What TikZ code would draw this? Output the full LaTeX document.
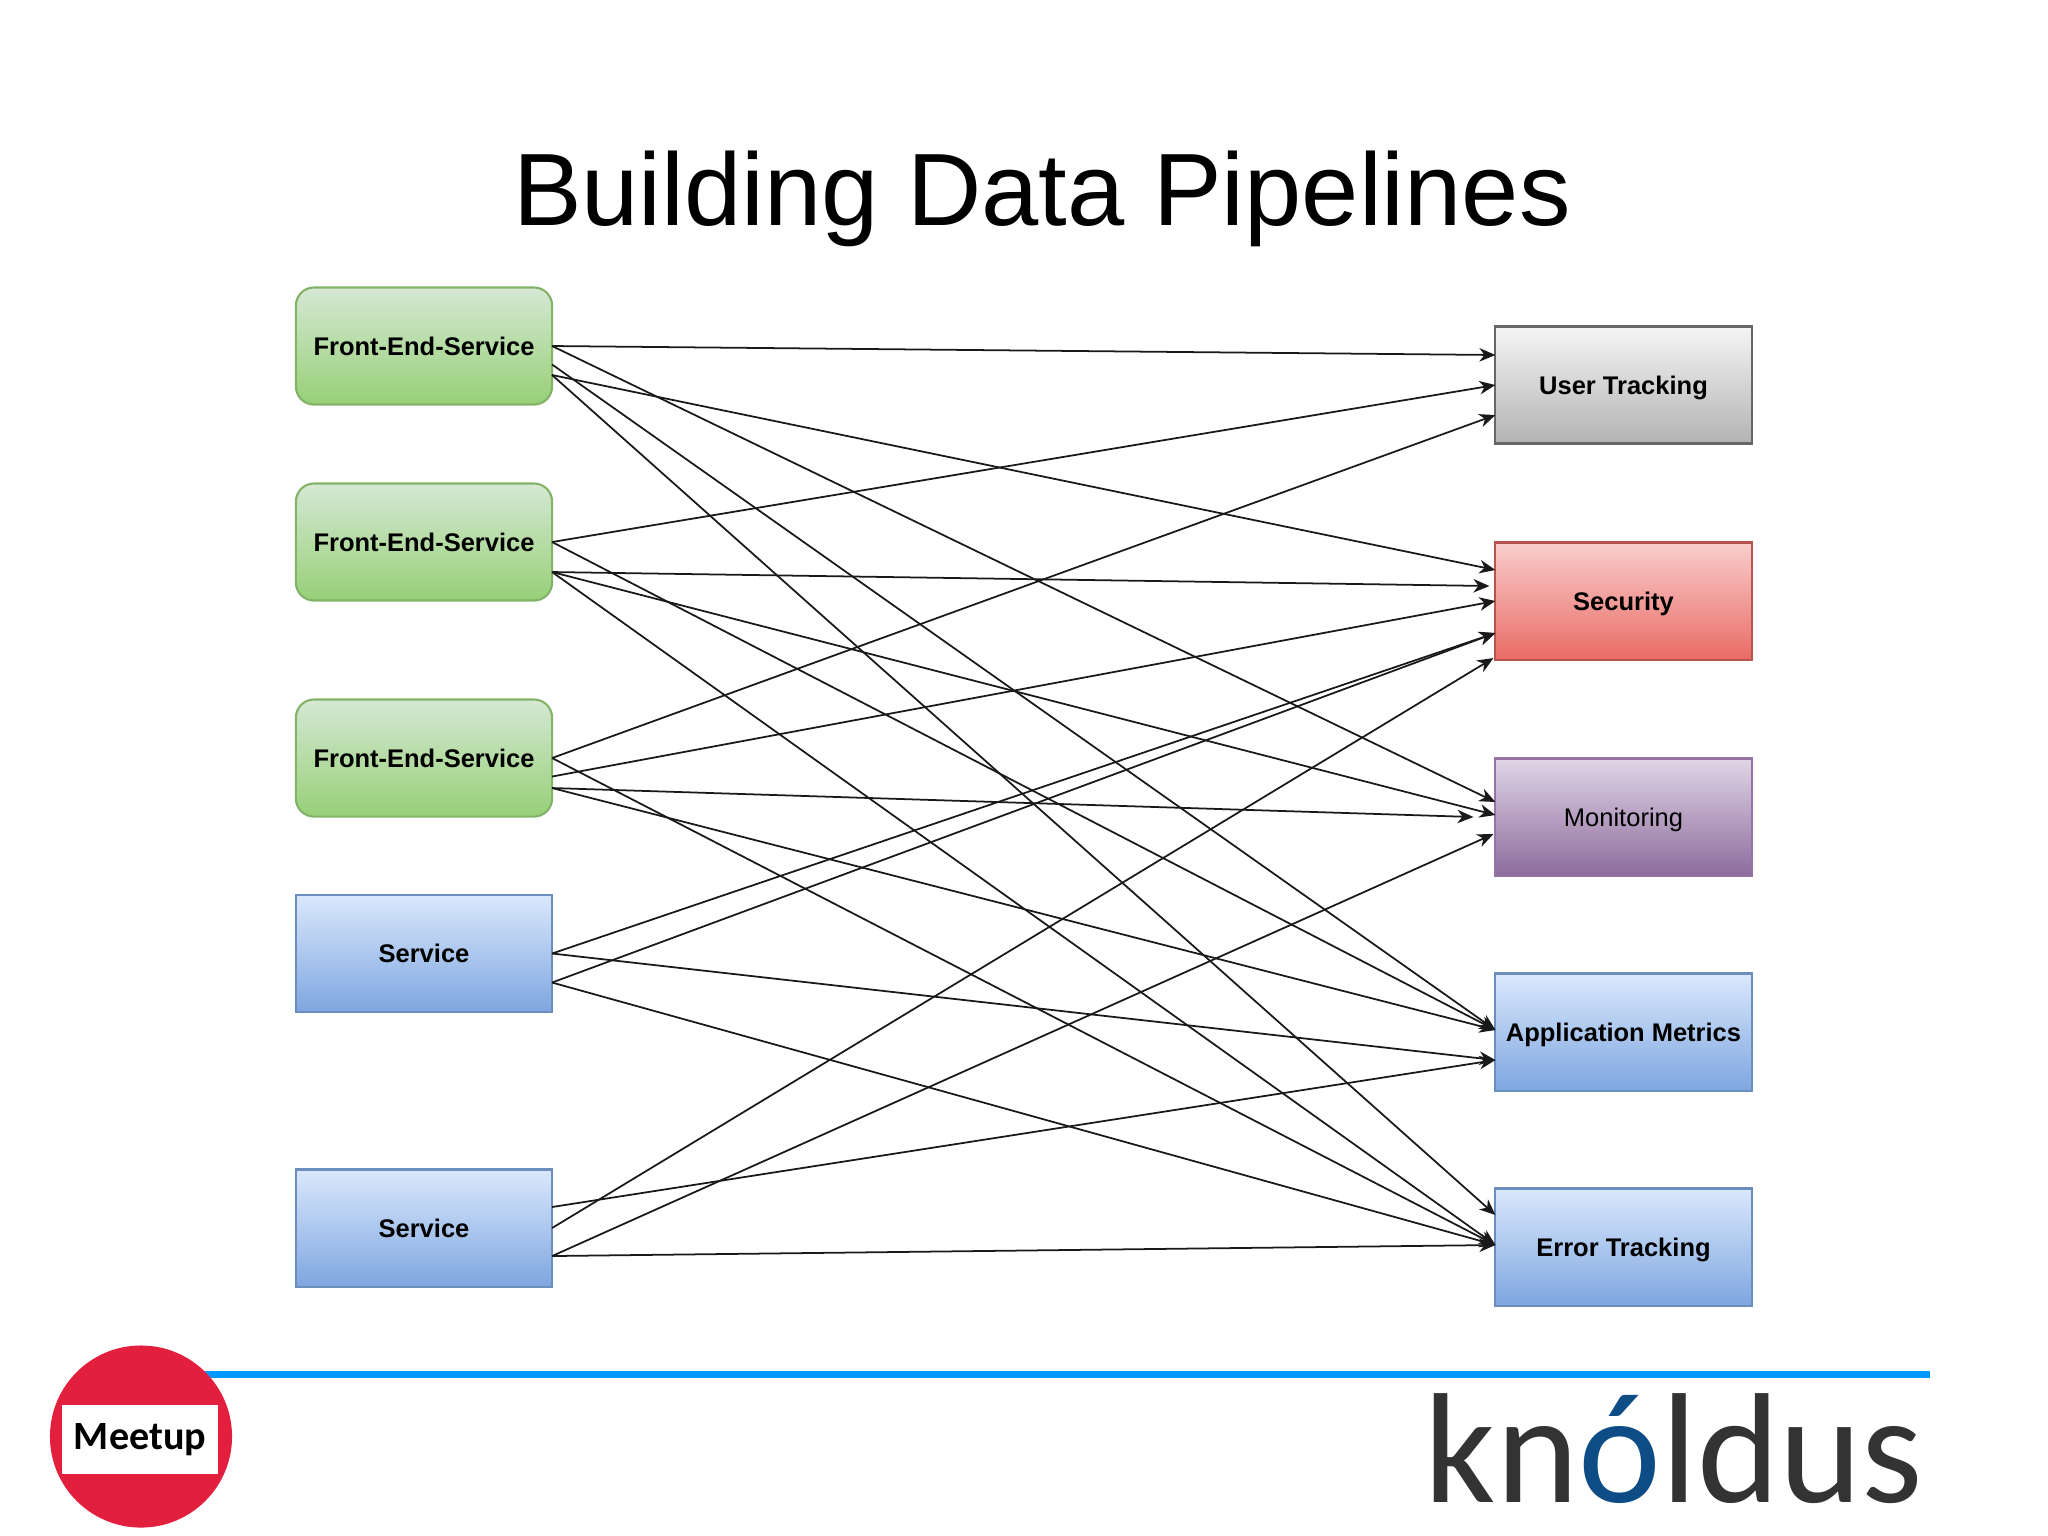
\documentclass[tikz,border=0pt]{standalone}
\usepackage{fontspec}
\setmainfont{Liberation Sans}
\newfontfamily\logofont{Carlito}
\usetikzlibrary{arrows.meta}
\usetikzlibrary{positioning}

\definecolor{greentop}{HTML}{D5E8D4}
\definecolor{greenbot}{HTML}{97D077}
\definecolor{greenline}{HTML}{82B366}
\definecolor{bluetop}{HTML}{DAE8FC}
\definecolor{bluebot}{HTML}{7EA6E0}
\definecolor{blueline}{HTML}{6C8EBF}
\definecolor{greytop}{HTML}{F5F5F5}
\definecolor{greybot}{HTML}{B3B3B3}
\definecolor{greyline}{HTML}{666666}
\definecolor{redtop}{HTML}{F8CECC}
\definecolor{redbot}{HTML}{EA6B66}
\definecolor{redline}{HTML}{B85450}
\definecolor{purpletop}{HTML}{E1D5E7}
\definecolor{purplebot}{HTML}{8C6C9C}
\definecolor{purpleline}{HTML}{9673A6}
\definecolor{badgered}{HTML}{E21F3D}
\definecolor{ruleblue}{HTML}{0099FF}
\definecolor{logodark}{HTML}{333333}
\definecolor{logoblue}{HTML}{0E4C85}

\begin{document}
\begin{tikzpicture}[>={Stealth[length=1.6mm,width=1.35mm,inset=.5mm]},x=0.01cm,y=-0.01cm]
\tikzstyle{box} = [draw, line width=.6pt, outer sep=0pt, inner sep=0pt, minimum width=2.56cm, minimum height=1.17cm, text height=5.2pt, text depth=0pt, font=\fontsize{7.25}{9}\selectfont\bfseries]
\tikzstyle{front} = [box, rounded corners=.18cm, top color=greentop, bottom color=greenbot, draw=greenline]
\tikzstyle{service} = [box, top color=bluetop, bottom color=bluebot, draw=blueline]
\tikzstyle{link} = [->, line width=.5pt, black!90]
\useasboundingbox (0,0) rectangle (2048,1535);

\node[font=\fontsize{29.25}{32}\selectfont, anchor=base] (title) at (1042,225) {Building Data Pipelines};

\node[front] (fe1) at (424,346) {Front-End-Service};
\node[front] (fe2) at (424,542) {Front-End-Service};
\node[front] (fe3) at (424,758) {Front-End-Service};
\node[service] (sv1) at (424,953.5) {Service};
\node[service] (sv2) at (424,1228) {Service};

\node[box, top color=greytop, bottom color=greybot, draw=greyline] (track) at (1623.5,385) {User Tracking};
\node[box, top color=redtop, bottom color=redbot, draw=redline] (sec) at (1623.5,601) {Security};
\node[box, top color=purpletop, bottom color=purplebot, draw=purpleline, font=\fontsize{7.25}{9}\selectfont] (mon) at (1623.5,817) {Monitoring};
\node[service] (app) at (1623.5,1032) {Application Metrics};
\node[service] (err) at (1623.5,1247) {Error Tracking};

\draw[->, link] (fe1.east) -- ([yshift=.30cm]track.west);
\draw[->, link] (fe1.east) -- ([yshift=.15cm]mon.west);
\draw[->, link] ([yshift=-.185cm]fe1.east) -- ([yshift=.02cm]app.west);
\draw[->, link] ([yshift=-.29cm]fe1.east) -- ([yshift=.31cm]sec.west);
\draw[->, link] ([yshift=-.29cm]fe1.east) -- ([yshift=.32cm]err.west);

\draw[->, link] (fe2.east) -- (track.west);
\draw[->, link] (fe2.east) -- ([yshift=.02cm]app.west);
\draw[->, link] ([yshift=-.30cm]fe2.east) -- ([xshift=-.06cm,yshift=.15cm]sec.west);
\draw[->, link] ([yshift=-.30cm]fe2.east) -- ([yshift=.02cm]mon.west);
\draw[->, link] ([yshift=-.30cm]fe2.east) -- ([yshift=.02cm]err.west);

\draw[->, link] (fe3.east) -- ([yshift=-.30cm]track.west);
\draw[->, link] (fe3.east) -- ([yshift=.02cm]err.west);
\draw[->, link] ([yshift=-.185cm]fe3.east) -- (sec.west);
\draw[->, link] ([yshift=-.30cm]fe3.east) -- ([xshift=-.22cm]mon.west);
\draw[->, link] ([yshift=-.30cm]fe3.east) -- ([yshift=.02cm]app.west);

\draw[->, link] (sv1.east) -- ([yshift=-.32cm]sec.west);
\draw[->, link] (sv1.east) -- ([yshift=-.28cm]app.west);
\draw[->, link] ([yshift=-.29cm]sv1.east) -- ([yshift=-.32cm]sec.west);
\draw[->, link] ([yshift=-.29cm]sv1.east) -- ([yshift=.02cm]err.west);

\draw[->, link] ([yshift=.21cm]sv2.east) -- ([yshift=-.28cm]app.west);
\draw[->, link] (sv2.east) -- ([xshift=-.02cm,yshift=-.57cm]sec.west);
\draw[->, link] ([yshift=-.28cm]sv2.east) -- ([xshift=-.02cm,yshift=-.17cm]mon.west);
\draw[->, link] ([yshift=-.28cm]sv2.east) -- ([yshift=.02cm]err.west);

% footer
\coordinate (rulea) at (141,1374.5);
\coordinate (ruleb) at (1930,1374.5);
\draw[ruleblue, line width=.07cm] (rulea) -- (ruleb);
\node[circle, fill=badgered, inner sep=0pt, minimum size=1.82cm] (badge) at (141,1436.5) {};
\node[fill=white, inner sep=0pt, minimum width=1.56cm, minimum height=.69cm, font=\logofont\fontsize{11.4}{13}\selectfont\bfseries] (tag) at (140,1439.5) {Meetup};
\node[anchor=base, text=logodark, font=\logofont\fontsize{44.6}{48}\selectfont] (logo) at (1674,1502) {kn{\color{logoblue}ó}ldus};
\end{tikzpicture}
\end{document}
